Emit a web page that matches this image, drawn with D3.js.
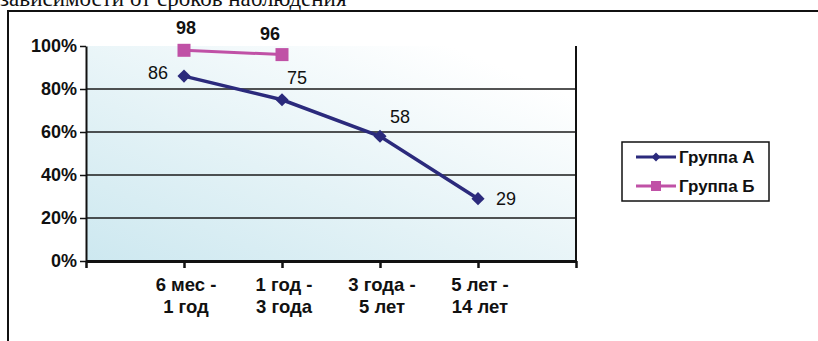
<!DOCTYPE html>
<html>
<meta charset="utf-8">
<style>
body { margin: 0; background: #fff; }
svg text { font-family: "Liberation Sans", Arial, sans-serif; }
.tick-lbl { font-size: 18px; font-weight: bold; fill: #111; }
.cat-lbl { font-size: 18.5px; font-weight: bold; fill: #111; }
.val { font-size: 18px; fill: #111; }
.val-b { font-size: 18px; font-weight: bold; fill: #111; }
.leg { font-size: 17px; font-weight: bold; fill: #111; }
</style>
<body>
<script src="https://d3js.org/d3.v7.min.js"></script>
<script>

// data
var categories = [["6 мес -", "1 год"], ["1 год -", "3 года"], ["3 года -", "5 лет"], ["5 лет -", "14 лет"]];
var groupA = [86, 75, 58, 29];
var groupB = [98, 96];
var yTicks = [0, 20, 40, 60, 80, 100];
var seriesNames = ["Группа А", "Группа Б"];

var W = 818, H = 341;
var plot = {left: 86, right: 576, top: 46, bottom: 261};

var svg = d3.select("body").append("svg")
    .attr("width", W)
    .attr("height", H);

// gradient for the plot area
var grad = svg.append("defs").append("linearGradient")
    .attr("id", "bg")
    .attr("x1", "0%").attr("y1", "100%")
    .attr("x2", "85%").attr("y2", "10%");
grad.append("stop").attr("offset", "0%").attr("stop-color", "#cde8f0");
grad.append("stop").attr("offset", "45%").attr("stop-color", "#e3f2f6");
grad.append("stop").attr("offset", "100%").attr("stop-color", "#ffffff");

// title (cut off at top, as in the source)
svg.append("text")
    .attr("x", 0).attr("y", 6)
    .style("font-family", "'Liberation Serif', 'Times New Roman', serif")
    .style("font-size", "23px")
    .style("fill", "#111")
    .text("зависимости от сроков наблюдения");

// outer frame
svg.append("rect")
    .attr("x", 8).attr("y", 11)
    .attr("width", 900).attr("height", 400)
    .attr("fill", "none")
    .attr("stroke", "#111")
    .attr("stroke-width", 2);

// scales
var x = d3.scaleLinear()
    .domain([0, categories.length + 1])
    .range([plot.left, plot.right]);

var y = d3.scaleLinear()
    .domain([0, 100])
    .range([plot.bottom, plot.top]);

// plot area
svg.append("rect")
    .attr("x", plot.left).attr("y", plot.top)
    .attr("width", plot.right - plot.left)
    .attr("height", plot.bottom - plot.top)
    .attr("fill", "url(#bg)");

// gridlines
svg.append("g")
    .selectAll("line")
    .data(yTicks.filter(function(d) { return d > 0 && d < 100; }))
    .join("line")
    .attr("x1", plot.left).attr("x2", plot.right)
    .attr("y1", function(d) { return y(d); })
    .attr("y2", function(d) { return y(d); })
    .attr("stroke", "#1a1a1a")
    .attr("stroke-width", 1.3);

// right border of plot
svg.append("line")
    .attr("x1", plot.right).attr("x2", plot.right)
    .attr("y1", plot.top).attr("y2", plot.bottom)
    .attr("stroke", "#111")
    .attr("stroke-width", 2);

// y axis
var yAxis = svg.append("g")
    .attr("transform", "translate(" + plot.left + ",0)")
    .call(d3.axisLeft(y)
        .tickValues(yTicks)
        .tickSize(6)
        .tickSizeOuter(0)
        .tickPadding(3)
        .tickFormat(function(d) { return d + "%"; }));
yAxis.attr("font-family", null).attr("font-size", null);
yAxis.select(".domain").attr("stroke", "#111").attr("stroke-width", 2);
yAxis.selectAll(".tick line").attr("stroke", "#111").attr("stroke-width", 1.5);
yAxis.selectAll(".tick text").attr("class", "tick-lbl").attr("fill", null);

// x axis
var xAxis = svg.append("g")
    .attr("transform", "translate(0," + plot.bottom + ")")
    .call(d3.axisBottom(x)
        .tickValues(d3.range(0, categories.length + 2))
        .tickSize(7)
        .tickSizeOuter(0)
        .tickFormat(""));
xAxis.select(".domain").attr("stroke", "#111").attr("stroke-width", 3);
xAxis.selectAll(".tick line").attr("stroke", "#111").attr("stroke-width", 2.5);

// x category labels
var xl = svg.append("g")
    .selectAll("text")
    .data(categories)
    .join("text")
    .attr("class", "cat-lbl")
    .attr("text-anchor", "middle")
    .attr("x", function(d, i) { return x(i + 1) + 2; })
    .attr("y", 291);
xl.append("tspan").text(function(d) { return d[0]; });
xl.append("tspan")
    .attr("x", function(d, i) { return x(i + 1) + 2; })
    .attr("dy", 22)
    .text(function(d) { return d[1]; });

// lines
var colA = "#2b2a7c", colB = "#c051a6";

var line = d3.line()
    .x(function(d, i) { return x(i + 1); })
    .y(function(d) { return y(d); });

svg.append("path")
    .datum(groupB)
    .attr("d", line)
    .attr("fill", "none")
    .attr("stroke", colB)
    .attr("stroke-width", 3);

svg.append("path")
    .datum(groupA)
    .attr("d", line)
    .attr("fill", "none")
    .attr("stroke", colA)
    .attr("stroke-width", 3.5);

// markers
var diamond = d3.symbol().type(d3.symbolDiamond2).size(110);
svg.append("g")
    .selectAll("path")
    .data(groupA)
    .join("path")
    .attr("d", diamond)
    .attr("transform", function(d, i) { return "translate(" + x(i + 1) + "," + y(d) + ")"; })
    .attr("fill", colA);

svg.append("g")
    .selectAll("rect")
    .data(groupB)
    .join("rect")
    .attr("x", function(d, i) { return x(i + 1) - 6.5; })
    .attr("y", function(d) { return y(d) - 6.5; })
    .attr("width", 13).attr("height", 13)
    .attr("fill", colB);

// value labels
var offA = [[-26, -3], [15, -22], [20, -19], [28, 0]];
svg.append("g")
    .selectAll("text")
    .data(groupA)
    .join("text")
    .attr("class", "val")
    .attr("text-anchor", "middle")
    .attr("x", function(d, i) { return x(i + 1) + offA[i][0]; })
    .attr("y", function(d, i) { return y(d) + offA[i][1] + 6; })
    .text(function(d) { return d; });

var offB = [[2, -22], [-12, -21]];
svg.append("g")
    .selectAll("text")
    .data(groupB)
    .join("text")
    .attr("class", "val-b")
    .attr("text-anchor", "middle")
    .attr("x", function(d, i) { return x(i + 1) + offB[i][0]; })
    .attr("y", function(d, i) { return y(d) + offB[i][1] + 6; })
    .text(function(d) { return d; });

// legend
var leg = svg.append("g").attr("transform", "translate(622,142)");
leg.append("rect")
    .attr("width", 147).attr("height", 59)
    .attr("fill", "#fff")
    .attr("stroke", "#111")
    .attr("stroke-width", 1.5);

var items = leg.selectAll("g.item")
    .data(seriesNames)
    .join("g")
    .attr("transform", function(d, i) { return "translate(0," + (15 + i * 29) + ")"; });
items.append("line")
    .attr("x1", 14).attr("x2", 54)
    .attr("stroke", function(d, i) { return i ? colB : colA; })
    .attr("stroke-width", 3);
items.each(function(d, i) {
  var g = d3.select(this);
  if (i === 0) {
    g.append("path").attr("d", d3.symbol().type(d3.symbolDiamond2).size(50))
      .attr("transform", "translate(34,0)").attr("fill", colA);
  } else {
    g.append("rect").attr("x", 29).attr("y", -5).attr("width", 10).attr("height", 10).attr("fill", colB);
  }
});
items.append("text")
    .attr("class", "leg")
    .attr("x", 57).attr("y", 6)
    .text(function(d) { return d; });

</script>
</body>
</html>
